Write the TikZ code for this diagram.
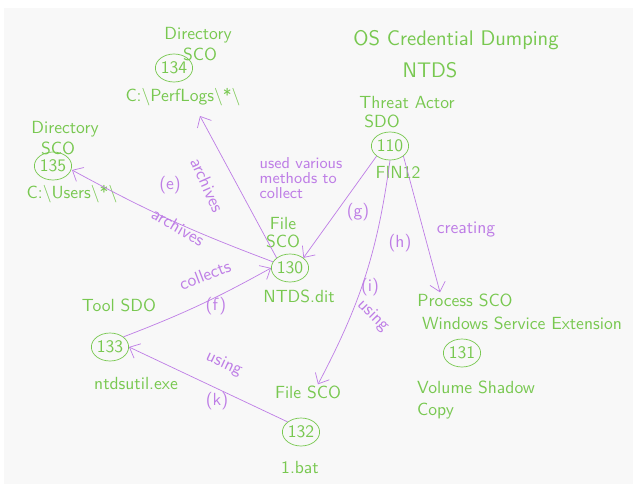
\documentclass[tikz,border=0pt]{standalone}
\usetikzlibrary{shapes.geometric,arrows.meta}
\definecolor{inkgreen}{RGB}{120,200,80}
\definecolor{inkpurple}{RGB}{190,125,230}
\definecolor{paper}{RGB}{248,248,248}
\tikzset{
  idnode/.style={ellipse, draw=inkgreen, text=inkgreen, minimum width=0.74cm, minimum height=0.56cm, inner sep=0pt, font=\sffamily},
  lbl/.style={text=inkgreen, font=\sffamily, inner sep=0.5pt},
  rel/.style={draw=inkpurple, -{Straight Barb[length=5pt,width=9pt]}},
  rellbl/.style={text=inkpurple, font=\sffamily, inner sep=0.5pt},
}
\begin{document}
\begin{tikzpicture}[x=0.02cm,y=-0.02cm]
  % paper
  \fill[white] (0,0) rectangle (633,484);
  \fill[paper] (4,8) rectangle (633,484);

  % --- title ---
  \node[lbl, font=\sffamily\large] (title) at (456,40) {OS Credential Dumping};
  \node[lbl, font=\sffamily\large] (ntds) at (430,70) {NTDS};

  % --- threat actor ---
  \node[idnode] (n110) at (390,146) {110};
  \node[lbl] (ta110) at (407,102) {Threat Actor};
  \node[lbl] (sdo110) at (382,121) {SDO};
  \node[lbl] (fin) at (398,172) {FIN12};

  % --- directories ---
  \node[idnode] (n134) at (174,68) {134};
  \node[lbl] (dir134) at (198,35) {Directory};
  \node[lbl] (sco134) at (200,54) {SCO};
  \node[lbl] (perflogs) at (183,97) {C:\textbackslash PerfLogs\textbackslash *\textbackslash};

  \node[idnode] (n135) at (53,166) {135};
  \node[lbl] (dir135) at (65,129) {Directory};
  \node[lbl] (sco135) at (58,148) {SCO};
  \node[lbl] (users) at (72,194) {C:\textbackslash Users\textbackslash *\textbackslash};

  % --- ntds file ---
  \node[idnode] (n130) at (290,268) {130};
  \node[lbl] (file130) at (283,223) {File};
  \node[lbl] (sco130) at (283,241) {SCO};
  \node[lbl] (ntdsdit) at (299,296) {NTDS.dit};

  % --- tool ---
  \node[idnode] (n133) at (110,347) {133};
  \node[lbl] (tool133) at (119,305) {Tool SDO};
  \node[lbl] (exe) at (136,383) {ntdsutil.exe};

  % --- batch file ---
  \node[idnode] (n132) at (301,432) {132};
  \node[lbl] (filesco) at (308,392) {File SCO};
  \node[lbl] (bat) at (300,467) {1.bat};

  % --- process ---
  \node[lbl] (procsco) at (465,300) {Process SCO};
  \node[lbl] (wse) at (522,323) {Windows Service Extension};
  \node[idnode] (n131) at (462,353) {131};
  \node[lbl, align=left, anchor=west] (vss) at (416,400) {Volume Shadow\\Copy};

  % --- relations ---
  \draw[rel] (n130.160) to[bend left=4] ([yshift=-0.08cm]n135.east);
  \draw[rel] (n130.north west) -- ([xshift=0.34cm,yshift=-0.18cm]perflogs.south);
  \draw[rel] (n110.south west) -- (n130.north east);
  \draw[rel] (n110.south east) -- ([xshift=-0.5cm]procsco.north);
  \draw[rel] (n110.south) to[bend left=10] ([xshift=0.2cm]filesco.north);
  \draw[rel] (n133.north east) to[bend right=4] (n130.west);
  \draw[rel] (n132.north west) -- (n133.east);

  % relation labels
  \node[rellbl] (le) at (170,185) {(e)};
  \node[rellbl, rotate=-30] (arch135) at (178,227) {archives};
  \node[rellbl, rotate=-66] (arch134) at (207,185) {archives};
  \node[rellbl, align=left, font=\sffamily\fontsize{9}{8.5}\selectfont] (lg) at (301,178) {used various\\methods to\\collect};
  \node[rellbl] (gg) at (358,212) {(g)};
  \node[rellbl] (hh) at (400,243) {(h)};
  \node[rellbl] (creat) at (466,230) {creating};
  \node[rellbl] (ii) at (370,287) {(i)};
  \node[rellbl, rotate=-45] (usei) at (373,316) {using};
  \node[rellbl, rotate=21] (coll) at (205,275) {collects};
  \node[rellbl] (ff) at (216,306) {(f)};
  \node[rellbl, rotate=-25] (usek) at (224,364) {using};
  \node[rellbl] (kk) at (217,401) {(k)};
\end{tikzpicture}
\end{document}
